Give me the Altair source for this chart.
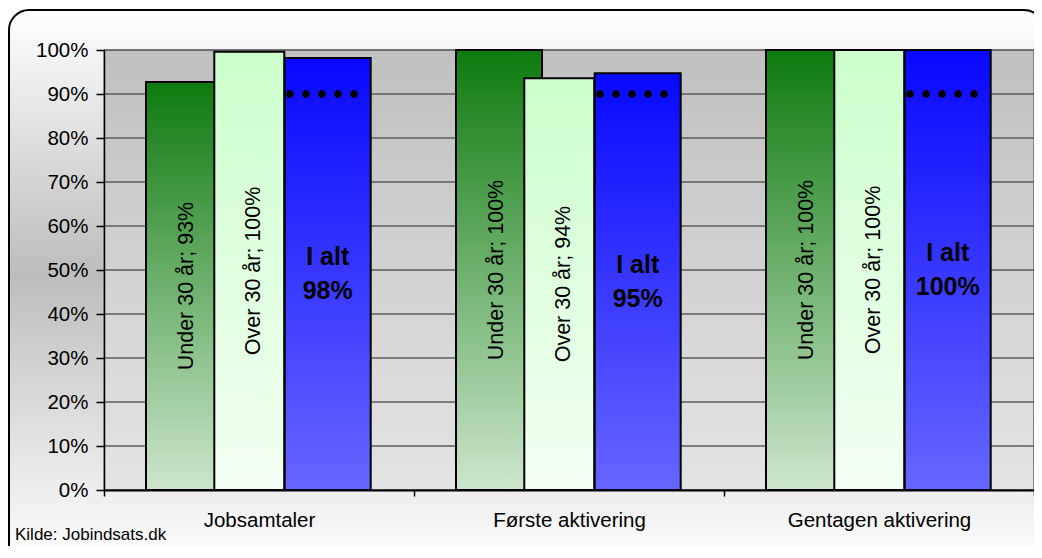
import altair as alt
import pandas as pd

# ---- data ----
categories = ["Jobsamtaler", "Første aktivering", "Gentagen aktivering"]
series_names = ["Under 30 år", "Over 30 år", "I alt"]
under30 = [92.7, 100.0, 100.0]
over30 = [99.6, 93.6, 100.0]
total = [98.2, 94.7, 100.0]
target = [90, 90, 90]
y_ticks = [0, 10, 20, 30, 40, 50, 60, 70, 80, 90, 100]
source_text = "Kilde: Jobindsats.dk"

W, H = 930, 440
FONT = "Liberation Sans"


def grad(stops):
    return alt.LinearGradient(
        gradient="linear",
        stops=[alt.GradientStop(offset=o, color=c) for o, c in stops],
        x1=0, x2=0, y1=0, y2=1,
    )


def series_df(vals, name, two_line=False):
    rows = []
    for c, v in zip(categories, vals):
        lab = f"{name}\n{round(v)}%" if two_line else f"{name}; {round(v)}%"
        rows.append({"cat": c, "v": v, "label": lab})
    return pd.DataFrame(rows)


df_u = series_df(under30, series_names[0])
df_o = series_df(over30, series_names[1])
df_t = series_df(total, series_names[2], two_line=True)
df_target = pd.DataFrame({"cat": categories, "v": target})
df_ticks = pd.DataFrame({"v": y_ticks})
df_one = pd.DataFrame({"text": [source_text]})

xscale = alt.Scale(domain=categories, paddingInner=0, paddingOuter=0)
yscale = alt.Scale(domain=[0, 100], nice=False)

x_axis = alt.Axis(
    title=None, tickBand="extent", tickColor="black", tickSize=6, tickWidth=1.5,
    domainColor="black", domainWidth=2, labelFont=FONT, labelFontSize=20.5,
    labelColor="black", labelPadding=14, labelAngle=0, labelLimit=0, zindex=1,
)
y_axis = alt.Axis(
    title=None, values=y_ticks, labelExpr="datum.value + '%'", tickColor="black",
    tickSize=8, tickWidth=1.5, domainColor="black", domainWidth=1.5,
    labelFont=FONT, labelFontSize=20.5, labelColor="black", labelPadding=8,
    grid=False, zindex=1,
)


def Y(field):
    return alt.Y(field, scale=yscale, axis=y_axis, title=None)


def X(**kw):
    return alt.X("cat:N", sort=categories, scale=xscale, axis=x_axis, title=None, **kw)


frame = alt.Chart(df_one).mark_rect(
    cornerRadius=20, stroke="black", strokeWidth=2,
    fill=grad([(0, "#ffffff"), (0.47, "#bdbdbd"), (1, "#ffffff")]),
).encode(x=alt.value(-95), x2=alt.value(940), y=alt.value(-40), y2=alt.value(520))

plot_bg = alt.Chart(df_one).mark_rect(
    fill=grad([(0, "#c0c0c0"), (1, "#e4e4e4")]), stroke="#808080", strokeWidth=1,
).encode(x=alt.value(0), x2=alt.value(W - 0.5), y=alt.value(0), y2=alt.value(H))

grid = alt.Chart(df_ticks).mark_rule(color="#5c5c5c", strokeWidth=1.5).encode(
    y=Y("v:Q")
)


def bars(df, width, off, fill):
    return alt.Chart(df).mark_bar(
        width=width, xOffset=off, fill=fill, stroke="black", strokeWidth=2
    ).encode(x=X(), y=Y("v:Q"))


OFF_U, OFF_O, OFF_T = -70, -9.7, 68.7

bars_u = bars(df_u, 86, OFF_U, grad([(0, "#0e7a0e"), (1, "#cde6cd")]))
bars_o = bars(df_o, 70, OFF_O, grad([(0, "#ccffcc"), (1, "#f3fff3")]))
bars_t = bars(df_t, 86, OFF_T, grad([(0, "#0808ff"), (1, "#6666ff")]))


def rot_text(df, off):
    return alt.Chart(df).transform_calculate(half="datum.v / 2").mark_text(
        angle=270, font=FONT, fontSize=21.5, color="black", align="center",
        baseline="middle", xOffset=off,
    ).encode(x=X(), y=Y("half:Q"), text="label:N")


text_u = rot_text(df_u, OFF_U - 2)
text_o = rot_text(df_o, OFF_O + 5)

text_t = alt.Chart(df_t).transform_calculate(half="datum.v / 2").mark_text(
    font=FONT, fontSize=25, fontWeight="bold", color="black", align="center",
    baseline="middle", lineBreak="\n", lineHeight=34, xOffset=OFF_T, dy=-17,
).encode(x=X(), y=Y("half:Q"), text="label:N")

dots = alt.Chart(df_target).mark_rule(
    color="black", strokeWidth=7.5, strokeCap="round", strokeDash=[0, 16],
    xOffset=31, x2Offset=95.5,
).encode(
    x=X(bandPosition=0.5),
    x2=alt.X2("cat:N", bandPosition=0.5),
    y=Y("v:Q"),
)

source = alt.Chart(df_one).mark_text(
    font=FONT, fontSize=17, color="black", align="left", baseline="alphabetic"
).encode(x=alt.value(-89), y=alt.value(490), text="text:N")

chart = alt.layer(
    frame, plot_bg, grid, bars_u, bars_o, bars_t, text_u, text_o, text_t, dots, source
).properties(
    width=W, height=H,
    padding={"left": 96, "top": 42, "right": 0, "bottom": 56},
    autosize=alt.AutoSizeParams(type="none"),
    background="white",
).configure_view(stroke=None)

chart.save("out.html", embed_options={"renderer": "svg", "actions": False})
